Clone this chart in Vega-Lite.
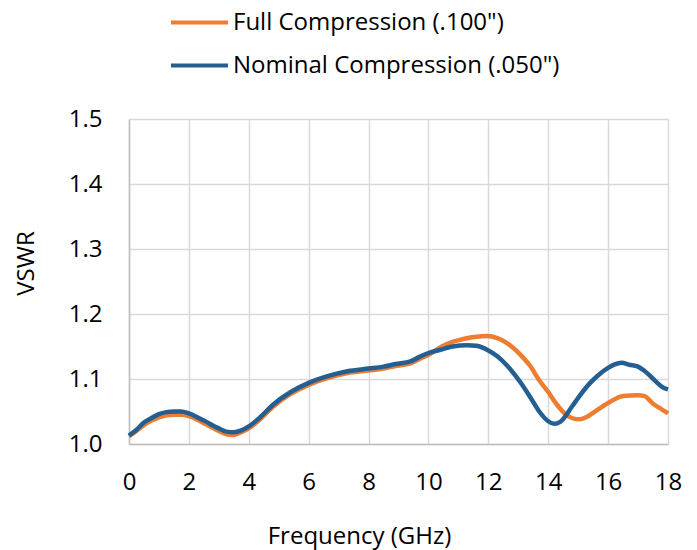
{
  "$schema": "https://vega.github.io/schema/vega-lite/v6.json",
  "width": 539,
  "height": 325,
  "autosize": "none",
  "padding": {"left": 129, "top": 119, "right": 29, "bottom": 106},
  "background": "white",
  "config": {"font": "Open Sans", "view": {"stroke": null}},
  "datasets": {
    "full": [
      {"f": 0, "v": 1.012}, {"f": 0.25, "v": 1.020}, {"f": 0.5, "v": 1.029}, {"f": 0.75, "v": 1.036},
      {"f": 1.0, "v": 1.041}, {"f": 1.5, "v": 1.045}, {"f": 1.75, "v": 1.045}, {"f": 2.0, "v": 1.043},
      {"f": 2.5, "v": 1.032}, {"f": 3.0, "v": 1.020}, {"f": 3.25, "v": 1.015}, {"f": 3.5, "v": 1.014},
      {"f": 3.75, "v": 1.018}, {"f": 4.0, "v": 1.024}, {"f": 4.4, "v": 1.039}, {"f": 4.8, "v": 1.057},
      {"f": 5.4, "v": 1.077}, {"f": 6.0, "v": 1.091}, {"f": 6.6, "v": 1.101}, {"f": 7.3, "v": 1.109},
      {"f": 8.0, "v": 1.113}, {"f": 8.5, "v": 1.116}, {"f": 8.9, "v": 1.120}, {"f": 9.4, "v": 1.124},
      {"f": 9.7, "v": 1.131}, {"f": 10.0, "v": 1.137}, {"f": 10.4, "v": 1.149}, {"f": 10.8, "v": 1.157},
      {"f": 11.2, "v": 1.162}, {"f": 11.6, "v": 1.165}, {"f": 11.95, "v": 1.166}, {"f": 12.3, "v": 1.163},
      {"f": 12.6, "v": 1.156}, {"f": 13.1, "v": 1.136}, {"f": 13.4, "v": 1.120}, {"f": 13.7, "v": 1.098},
      {"f": 14.0, "v": 1.080}, {"f": 14.3, "v": 1.060}, {"f": 14.6, "v": 1.045}, {"f": 14.85, "v": 1.039},
      {"f": 15.05, "v": 1.038}, {"f": 15.3, "v": 1.042}, {"f": 15.5, "v": 1.048}, {"f": 16.0, "v": 1.063},
      {"f": 16.5, "v": 1.074}, {"f": 17.0, "v": 1.075}, {"f": 17.2, "v": 1.074}, {"f": 17.5, "v": 1.062},
      {"f": 17.8, "v": 1.053}, {"f": 18.0, "v": 1.047}
    ],
    "nominal": [
      {"f": 0, "v": 1.013}, {"f": 0.25, "v": 1.022}, {"f": 0.5, "v": 1.033}, {"f": 0.75, "v": 1.040},
      {"f": 1.0, "v": 1.046}, {"f": 1.25, "v": 1.049}, {"f": 1.5, "v": 1.050}, {"f": 1.75, "v": 1.050},
      {"f": 2.0, "v": 1.047}, {"f": 2.5, "v": 1.036}, {"f": 3.0, "v": 1.024}, {"f": 3.25, "v": 1.019},
      {"f": 3.5, "v": 1.018}, {"f": 3.75, "v": 1.021}, {"f": 4.0, "v": 1.027}, {"f": 4.4, "v": 1.042},
      {"f": 4.8, "v": 1.060}, {"f": 5.4, "v": 1.080}, {"f": 6.0, "v": 1.094}, {"f": 6.6, "v": 1.104},
      {"f": 7.3, "v": 1.112}, {"f": 8.0, "v": 1.116}, {"f": 8.5, "v": 1.119}, {"f": 8.9, "v": 1.123},
      {"f": 9.4, "v": 1.127}, {"f": 9.7, "v": 1.134}, {"f": 10.0, "v": 1.140}, {"f": 10.4, "v": 1.145},
      {"f": 10.8, "v": 1.150}, {"f": 11.3, "v": 1.152}, {"f": 11.6, "v": 1.151}, {"f": 12.0, "v": 1.144},
      {"f": 12.3, "v": 1.135}, {"f": 12.6, "v": 1.122}, {"f": 13.1, "v": 1.093}, {"f": 13.4, "v": 1.072},
      {"f": 13.7, "v": 1.050}, {"f": 14.0, "v": 1.035}, {"f": 14.2, "v": 1.031}, {"f": 14.4, "v": 1.034},
      {"f": 14.8, "v": 1.058}, {"f": 15.0, "v": 1.071}, {"f": 15.4, "v": 1.094}, {"f": 15.7, "v": 1.107},
      {"f": 16.0, "v": 1.117}, {"f": 16.2, "v": 1.122}, {"f": 16.45, "v": 1.125}, {"f": 16.7, "v": 1.122},
      {"f": 17.0, "v": 1.119}, {"f": 17.2, "v": 1.113}, {"f": 17.6, "v": 1.096}, {"f": 17.8, "v": 1.088},
      {"f": 18.0, "v": 1.084}
    ]
  },
  "layer": [
    {
      "data": {"name": "full"},
      "transform": [{"calculate": "'Full Compression (.100\")'", "as": "series"}],
      "mark": {"type": "line", "strokeWidth": 4.5, "interpolate": "monotone"},
      "encoding": {
        "x": {
          "field": "f", "type": "quantitative",
          "scale": {"domain": [0, 18], "nice": false},
          "axis": {
            "values": [0, 2, 4, 6, 8, 10, 12, 14, 16, 18], "format": "d",
            "labelFontSize": 24, "labelColor": "#000000", "labelPadding": 26,
            "ticks": false, "tickSize": 0, "labelFlush": false,
            "domainColor": "#BFBFBF", "domainWidth": 1.5,
            "gridColor": "#D9D9D9", "gridWidth": 1.5,
            "title": "Frequency (GHz)", "titleFontSize": 24, "titleFontWeight": "normal", "titleColor": "#000000",
            "titleX": 230, "titleY": 99, "titleBaseline": "alphabetic", "titleAlign": "center"
          }
        },
        "y": {
          "field": "v", "type": "quantitative",
          "scale": {"domain": [1, 1.5], "nice": false, "zero": false},
          "axis": {
            "values": [1, 1.1, 1.2, 1.3, 1.4, 1.5], "format": ".1f",
            "labelFontSize": 24, "labelColor": "#000000", "labelPadding": 27, "labelBaseline": "middle",
            "ticks": false, "tickSize": 0, "labelFlush": false,
            "domainColor": "#BFBFBF", "domainWidth": 1.5,
            "gridColor": "#D9D9D9", "gridWidth": 1.5,
            "title": "VSWR", "titleFontSize": 24, "titleFontWeight": "normal", "titleColor": "#000000",
            "titleX": -96, "titleY": 144, "titleAngle": 270, "titleBaseline": "alphabetic", "titleAlign": "center"
          }
        },
        "color": {
          "field": "series", "type": "nominal",
          "scale": {"domain": ["Full Compression (.100\")", "Nominal Compression (.050\")"], "range": ["#ED7D31", "#255E91"]},
          "legend": {
            "orient": "none", "legendX": 40, "legendY": -127, "direction": "vertical",
            "title": null, "symbolType": "stroke", "symbolSize": 3249, "symbolStrokeWidth": 4,
            "labelFontSize": 24, "labelColor": "#000000", "labelOffset": 3, "labelLimit": 0,
            "rowPadding": -20, "padding": 0
          }
        }
      }
    },
    {
      "data": {"name": "nominal"},
      "transform": [{"calculate": "'Nominal Compression (.050\")'", "as": "series"}],
      "mark": {"type": "line", "strokeWidth": 4.5, "interpolate": "monotone"},
      "encoding": {
        "x": {"field": "f", "type": "quantitative"},
        "y": {"field": "v", "type": "quantitative"},
        "color": {"field": "series", "type": "nominal"}
      }
    }
  ]
}
